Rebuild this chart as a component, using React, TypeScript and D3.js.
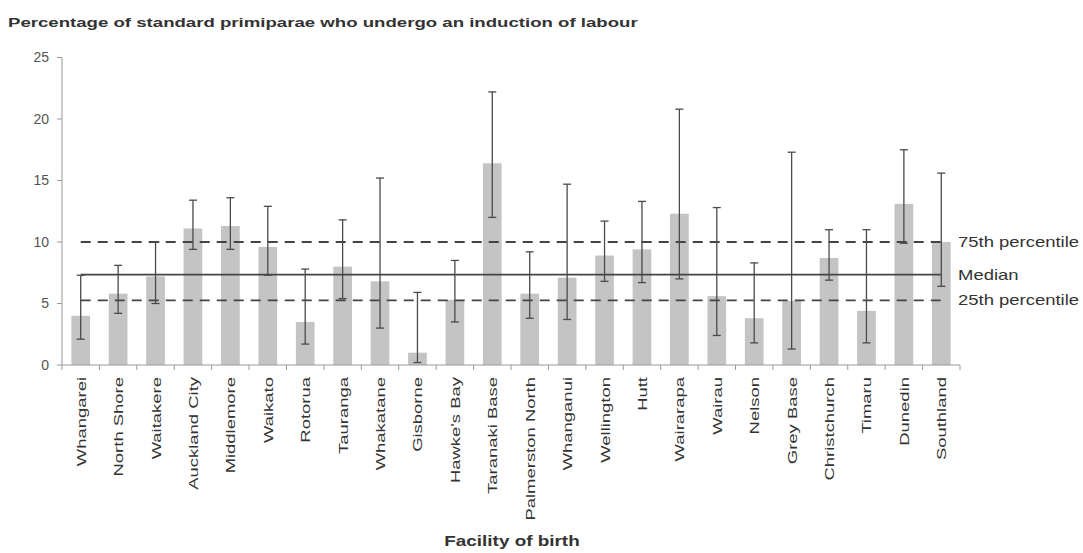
import * as d3 from 'd3';

const facilities = [
  'Whangarei', 'North Shore', 'Waitakere', 'Auckland City', 'Middlemore', 'Waikato',
  'Rotorua', 'Tauranga', 'Whakatane', 'Gisborne', "Hawke's Bay", 'Taranaki Base',
  'Palmerston North', 'Whanganui', 'Wellington', 'Hutt', 'Wairarapa', 'Wairau',
  'Nelson', 'Grey Base', 'Christchurch', 'Timaru', 'Dunedin', 'Southland',
];
const values = [4.0, 5.8, 7.2, 11.1, 11.3, 9.6, 3.5, 8.0, 6.8, 1.0, 5.3, 16.4, 5.8, 7.1, 8.9, 9.4, 12.3, 5.6, 3.8, 5.2, 8.7, 4.4, 13.1, 10.0];
const lower = [2.1, 4.2, 5.0, 9.4, 9.4, 7.3, 1.7, 5.4, 3.0, 0.2, 3.5, 12.0, 3.8, 3.7, 6.8, 6.7, 7.0, 2.4, 1.8, 1.3, 6.9, 1.8, 9.9, 6.4];
const upper = [7.3, 8.1, 10.0, 13.4, 13.6, 12.9, 7.8, 11.8, 15.2, 5.9, 8.5, 22.2, 9.2, 14.7, 11.7, 13.3, 20.8, 12.8, 8.3, 17.3, 11.0, 11.0, 17.5, 15.6];
const yTicks = [0, 5, 10, 15, 20, 25];
const refLines = [
  { label: '75th percentile', value: 10.0, dashed: true },
  { label: 'Median', value: 7.35, dashed: false },
  { label: '25th percentile', value: 5.25, dashed: true },
];

const width = 1083;
const height = 553;
const left = 62;
const right = 960;
const top = 57.5;
const bottom = 365;
const font = 'Liberation Sans, Arial, sans-serif';

export default function App() {
  const x = d3.scaleBand<string>().domain(facilities).range([left, right]).paddingInner(0.5).paddingOuter(0.25);
  const y = d3.scaleLinear().domain([0, 25]).range([bottom, top]);
  const bw = x.bandwidth();
  const step = x.step();
  const cx = (f: string) => (x(f) as number) + bw / 2;
  const first = cx(facilities[0]);
  const last = cx(facilities[facilities.length - 1]);

  return (
    <svg width={width} height={height} style={{ position: 'absolute', left: 0, top: 0, background: '#fff' }} fontFamily={font}>
      <text transform="translate(8,27) scale(1.38,1)" fontSize={13.5} fontWeight="bold" fill="#333">
        Percentage of standard primiparae who undergo an induction of labour
      </text>

      {/* y axis */}
      <line x1={left} x2={left} y1={top} y2={bottom} stroke="#999" />
      {yTicks.map(t => (
        <g key={t}>
          <line x1={left - 5} x2={left} y1={y(t)} y2={y(t)} stroke="#999" />
          <text x={left - 13} y={y(t)} dy="0.35em" textAnchor="end" fontSize={14} fill="#555">{t}</text>
        </g>
      ))}

      {/* bars */}
      {facilities.map((f, i) => (
        <rect key={f} x={x(f)} y={y(values[i])} width={bw} height={bottom - y(values[i])} fill="#c4c4c4" />
      ))}

      {/* reference lines */}
      {refLines.map(r => (
        <g key={r.label}>
          <line x1={first} x2={last + (r.dashed ? 5 : 0)} y1={y(r.value)} y2={y(r.value)} stroke="#444"
            strokeWidth={1.8} strokeDasharray={r.dashed ? '10 7' : undefined} />
          <text transform={`translate(${right - 2},${y(r.value)}) scale(1.32,1)`} dy="0.35em" fontSize={14} fill="#333">{r.label}</text>
        </g>
      ))}

      {/* error bars */}
      {facilities.map((f, i) => (
        <g key={f} stroke="#4a4a4a" strokeWidth={1.3}>
          <line x1={cx(f)} x2={cx(f)} y1={y(lower[i])} y2={y(upper[i])} />
          <line x1={cx(f) - 4} x2={cx(f) + 4} y1={y(lower[i])} y2={y(lower[i])} />
          <line x1={cx(f) - 4} x2={cx(f) + 4} y1={y(upper[i])} y2={y(upper[i])} />
        </g>
      ))}

      {/* x axis */}
      <line x1={left} x2={right} y1={bottom} y2={bottom} stroke="#999" />
      {d3.range(facilities.length + 1).map(k => (
        <line key={k} x1={left + k * step} x2={left + k * step} y1={bottom} y2={bottom + 5} stroke="#999" />
      ))}
      {facilities.map(f => (
        <text key={f} transform={`translate(${cx(f) + 5},${bottom + 12}) rotate(-90) scale(1.42,1)`}
          textAnchor="end" fontSize={13} fill="#333">{f}</text>
      ))}

      <text transform="translate(512,546) scale(1.35,1)" textAnchor="middle" fontSize={14} fontWeight="bold" fill="#333">Facility of birth</text>
    </svg>
  );
}
